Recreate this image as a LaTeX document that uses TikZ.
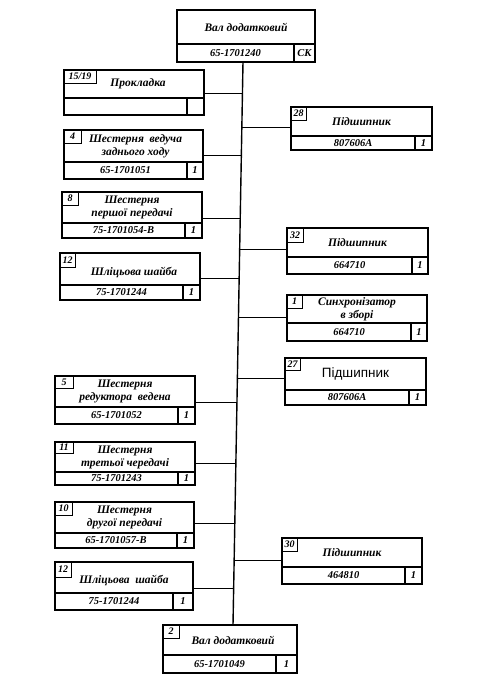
\documentclass[tikz,border=0pt]{standalone}
\usepackage{fontspec}
\setmainfont{Liberation Serif}
\newfontfamily\sansf{Liberation Sans}
\usetikzlibrary{calc}
\tikzset{
 partbox/.style={draw, line width=1.3pt, anchor=north west, inner sep=0pt, outer sep=0pt},
 numbox/.style={draw, line width=1pt, anchor=north west, inner sep=0pt, outer sep=0pt, font=\bfseries\itshape\fontsize{10}{11}\selectfont},
 ttl/.style={font=\bfseries\itshape\fontsize{11.5}{13}\selectfont, align=center, inner sep=0pt},
 cde/.style={font=\bfseries\itshape\fontsize{10.5}{12}\selectfont, inner sep=0pt},
 divl/.style={line width=1.2pt},
 conn/.style={line width=1pt},
 spine/.style={line width=1.4pt}
}
\newcommand\pbox[7]{%
 \node[partbox, minimum width={(#4-#2)*1pt}, minimum height={(#5-#3)*1pt}] (#1) at (#2,#3) {};
 \coordinate (#1-d) at (#2,#6);
 \coordinate (#1-c) at (#7,#6);
 \draw[divl] (#1-d) -- (#1.east |- #1-d);
 \draw[divl] (#1-c) -- (#1-c |- #1.south);
}
\newcommand\ptitle[3][]{%
 \node[ttl,#1] (#2-t) at ($(#2.north)!0.5!(#2.north |- #2-d)$) {#3};
}
\newcommand\pcode[3]{%
 \node[cde] (#1-k) at ($(#1-d)!0.5!(#1-c |- #1.south)$) {#2};
 \node[cde] (#1-q) at ($(#1-c)!0.5!(#1.south east)$) {#3};
}
\newcommand\pnum[4]{%
 \node[numbox, minimum width=#2pt, minimum height=#3pt] (#1-n) at (#1.north west) {#4};
}
\begin{document}
\begin{tikzpicture}[x=1pt,y=-1pt]
\useasboundingbox (0,0) rectangle (477,686);
% top
\pbox{top}{177}{10}{315}{62}{44}{294}
\ptitle{top}{Вал додатковий}
\pcode{top}{65-1701240}{СК}
% left column
\pbox{b1}{64}{70}{204}{115}{98}{187}
\pnum{b1}{32}{13}{15/19}
\ptitle[xshift=4pt]{b1}{Прокладка}
\pbox{b4}{64}{130}{203}{179}{162}{187}
\pnum{b4}{17}{13}{4}
\ptitle[xshift=2pt]{b4}{Шестерня~~ведуча\\заднього ходу}
\pcode{b4}{65-1701051}{1}
\pbox{b8}{62}{192}{202}{238}{223}{185}
\pnum{b8}{16}{13}{8}
\ptitle{b8}{Шестерня\\першої передачі}
\pcode{b8}{75-1701054-В}{1}
\pbox{b12a}{60}{253}{200}{300}{285}{183}
\pnum{b12a}{15}{14}{12}
\ptitle[yshift=-3pt,xshift=4pt]{b12a}{Шліцьова шайба}
\pcode{b12a}{75-1701244}{1}
\pbox{b5}{55}{376}{195}{424}{407}{178}
\pnum{b5}{18}{12}{5}
\ptitle{b5}{Шестерня\\редуктора~~ведена}
\pcode{b5}{65-1701052}{1}
\pbox{b11}{55}{442}{195}{485}{472}{178}
\pnum{b11}{18}{11}{11}
\ptitle{b11}{Шестерня\\третьої чередачі}
\pcode{b11}{75-1701243}{1}
\pbox{b10}{55}{502}{194}{548}{533}{177}
\pnum{b10}{17}{13}{10}
\ptitle{b10}{Шестерня\\другої передачі}
\pcode{b10}{65-1701057-В}{1}
\pbox{b12b}{55}{562}{193}{610}{593}{173}
\pnum{b12b}{16}{15}{12}
\ptitle[yshift=-3pt]{b12b}{Шліцьова~~шайба}
\pcode{b12b}{75-1701244}{1}
% right column
\pbox{b28}{291}{107}{432}{150}{136}{415}
\pnum{b28}{15}{13}{28}
\ptitle{b28}{Підшипник}
\pcode{b28}{807606А}{1}
\pbox{b32}{287}{228}{428}{274}{257}{412}
\pnum{b32}{16}{14}{32}
\ptitle{b32}{Підшипник}
\pcode{b32}{664710}{1}
\pbox{b1s}{287}{295}{427}{341}{323}{411}
\pnum{b1s}{15}{13}{1}
\ptitle{b1s}{Синхронізатор\\в зборі}
\pcode{b1s}{664710}{1}
\pbox{b27}{285}{358}{426}{405}{390}{409}
\pnum{b27}{15}{12}{27}
\ptitle[font=\sansf\fontsize{13.5}{15}\selectfont]{b27}{Підшипник}
\pcode{b27}{807606А}{1}
\pbox{b30}{282}{538}{422}{584}{567}{405}
\pnum{b30}{15}{13}{30}
\ptitle{b30}{Підшипник}
\pcode{b30}{464810}{1}
% bottom
\pbox{b2}{163}{625}{297}{673}{655}{276}
\pnum{b2}{16}{13}{2}
\ptitle[xshift=3pt]{b2}{Вал додатковий}
\pcode{b2}{65-1701049}{1}
% spine
\coordinate (s1) at (243,62);
\coordinate (s2) at (233,625);
\draw[spine] (top.south -| s1) -- (b2.north -| s2);
% junctions
\coordinate (j1) at (242.4,93);
\coordinate (j4) at (241.3,155);
\coordinate (j8) at (240.2,218);
\coordinate (j12a) at (239.2,278);
\coordinate (j5) at (237.0,402);
\coordinate (j11) at (235.9,463);
\coordinate (j10) at (234.8,523);
\coordinate (j12b) at (233.7,588);
\coordinate (j28) at (241.8,127);
\coordinate (j32) at (239.7,249);
\coordinate (j1s) at (238.5,317);
\coordinate (j27) at (237.4,378);
\coordinate (j30) at (234.2,560);
\foreach \b in {1,4,8,12a,5,11,10,12b}{\draw[conn] (b\b.east |- j\b) -- (j\b);}
\foreach \b in {28,32,1s,27,30}{\draw[conn] (b\b.west |- j\b) -- (j\b);}
\end{tikzpicture}
\end{document}
